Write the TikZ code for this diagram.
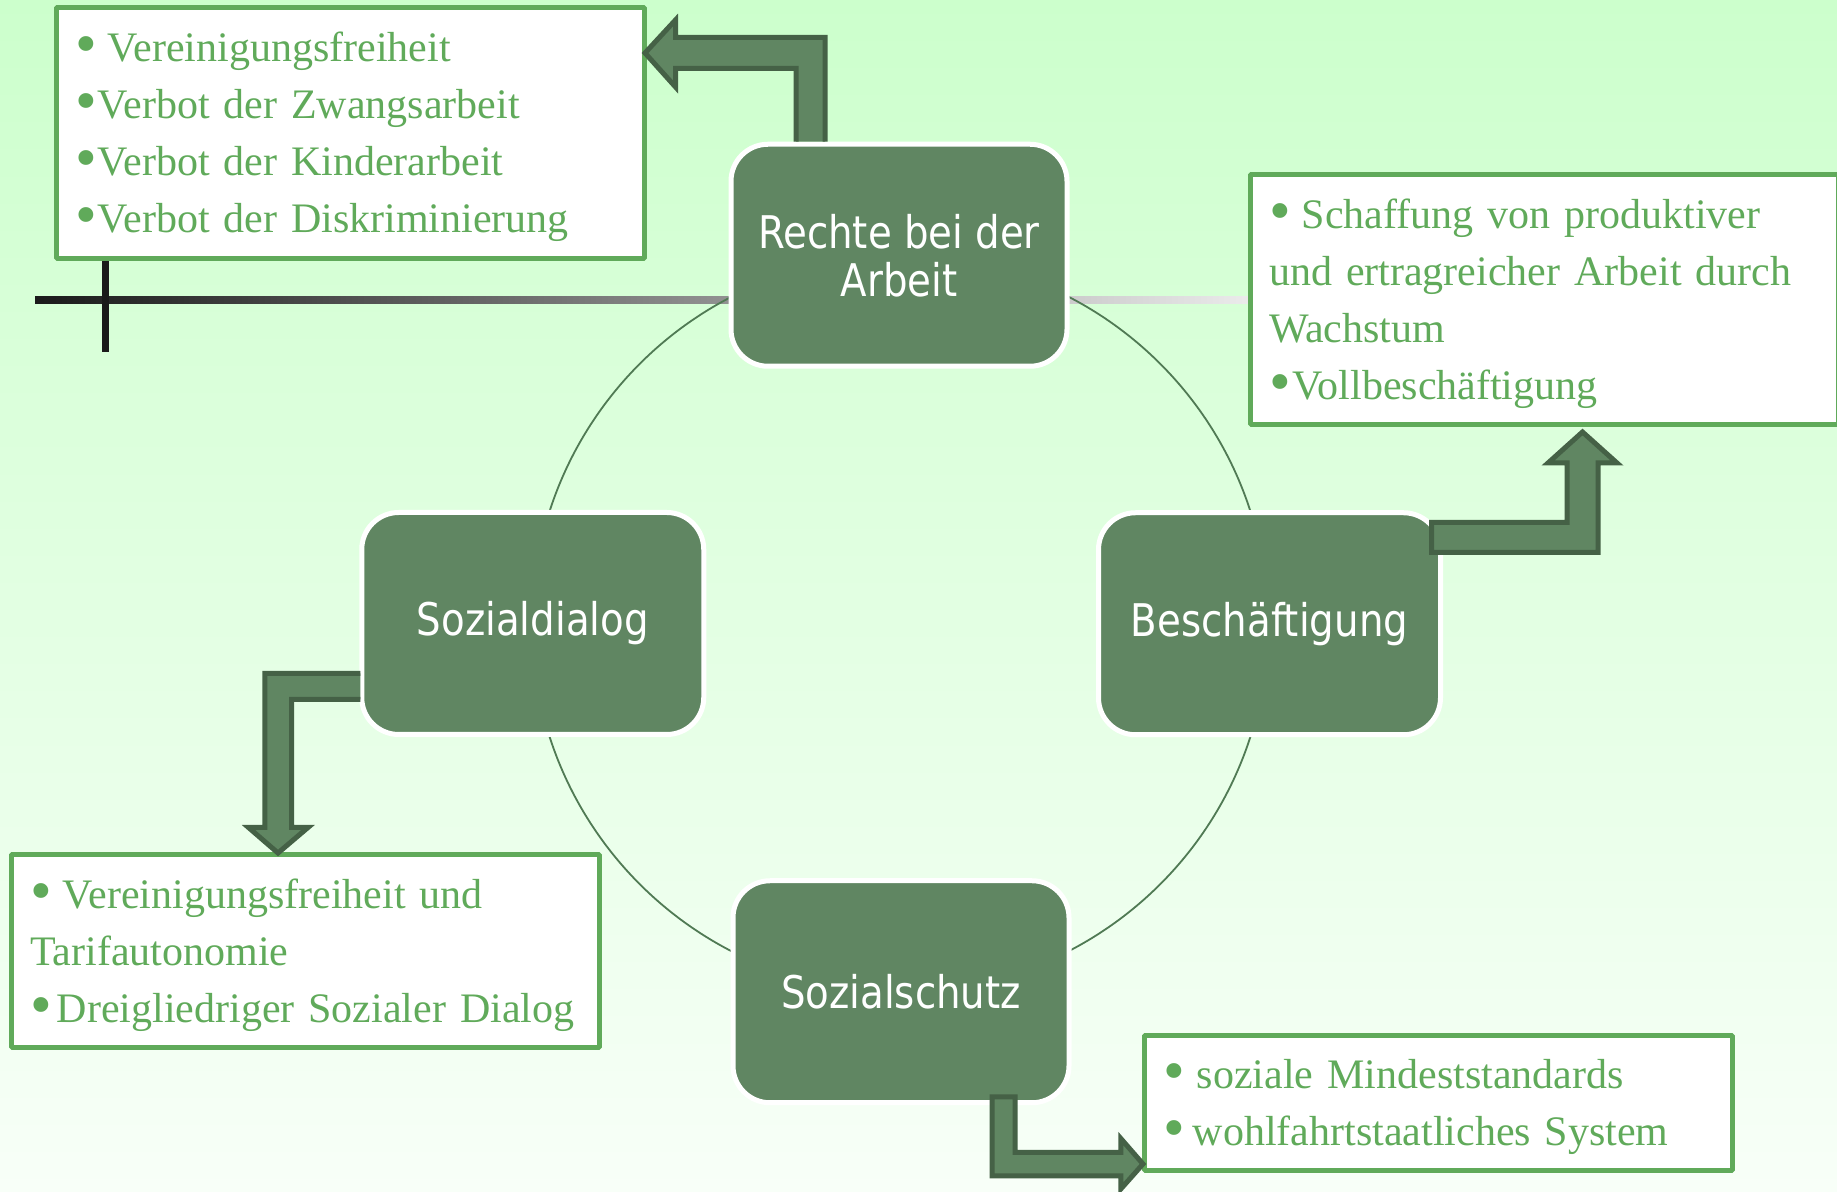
\documentclass[tikz,border=0pt]{standalone}
\usepackage{fontspec}
\setmainfont{Liberation Serif}
\newfontfamily\hubfont{DejaVu Sans}[FakeStretch=0.86]
\definecolor{bgtop}{RGB}{204,255,204}
\definecolor{bgbot}{RGB}{248,255,248}
\definecolor{hubfill}{RGB}{96,134,98}
\definecolor{arrowdark}{RGB}{69,97,70}
\definecolor{boxgreen}{RGB}{96,170,90}
\definecolor{ringgreen}{RGB}{80,122,84}
\definecolor{barleft}{RGB}{26,26,26}
\definecolor{barright}{RGB}{235,235,235}
\newcommand{\firstline}{\rule{0pt}{37bp}}
\newcommand{\bul}{\raisebox{-3bp}{\fontsize{62bp}{57bp}\selectfont•}}
\tikzset{
  hub/.style={draw=white,line width=5bp,fill=hubfill,rounded corners=37bp,
    minimum width=342bp,minimum height=222bp,inner sep=0pt,text=white,
    align=center,font=\hubfont\fontsize{45bp}{48bp}\selectfont},
  infobox/.style={draw=boxgreen,line width=5bp,fill=white,text=boxgreen,
    minimum width=588bp,text width=550bp,inner xsep=19bp,inner ysep=0pt,
    align=left,font=\fontsize{42bp}{57bp}\selectfont},
  blockarrow/.style={draw=arrowdark,fill=hubfill,line width=5bp,line join=miter},
}
\begin{document}
\begin{tikzpicture}[line join=bevel,]
%%
\useasboundingbox (0bp,0bp) rectangle (1837bp,1192bp);
\shade [top color=bgtop,bottom color=bgbot] (0bp,0bp) rectangle (1837bp,1192bp);
\shade [left color=barleft,right color=barright] (35bp,888.5bp) rectangle (1250bp,895.5bp);
\draw [ringgreen,line width=1.8bp] (900bp,568bp) circle (368bp);
%
\node (box_r) at (350bp,1058.5bp) [infobox,minimum height=251bp] {\firstline\bul\hspace{11bp}Vereinigungsfreiheit\\ \bul\hspace{1bp}Verbot der Zwangsarbeit\\ \bul\hspace{1bp}Verbot der Kinderarbeit\\ \bul\hspace{1bp}Verbot der Diskriminierung};
  \node (box_b) at (1544bp,892bp) [infobox,minimum height=250bp] {\firstline\bul\hspace{11bp}Schaffung von produktiver\\ und ertragreicher Arbeit durch\\ Wachstum\\ \bul\hspace{2bp}Vollbeschäftigung};
  \node (box_d) at (305bp,240.5bp) [infobox,minimum height=193bp] {\firstline\bul\hspace{11bp}Vereinigungsfreiheit und\\ Tarifautonomie\\ \bul\hspace{5bp}Dreigliedriger Sozialer Dialog};
  \node (box_s) at (1438bp,88.5bp) [infobox,minimum height=135bp] {\firstline\bul\hspace{12bp}soziale Mindeststandards\\ \bul\hspace{8bp}wohlfahrtstaatliches System};
%
\node (node_r) at (899bp,936.75bp) [hub,minimum width=336bp] {Rechte bei der\\Arbeit};
  \node (node_b) at (1269.5bp,568.25bp) [hub] {Beschäftigung};
  \node (node_d) at (532.75bp,568.5bp) [hub] {Sozialdialog};
  \node (node_s) at (901bp,200.25bp) [hub,minimum width=336bp] {Sozialschutz};
%
\draw [barleft,line width=7bp] ([xshift=-244.5bp]box_r.south) -- ([xshift=-244.5bp,yshift=-90.5bp]box_r.south);
%
\filldraw [blockarrow] ([xshift=-103bp]node_r.north) -- (796bp,1123.5bp) -- (675.5bp,1123.5bp) -- (675.5bp,1105bp) -- (645bp,1139bp) -- (675.5bp,1172bp) -- (675.5bp,1154.5bp) -- (825bp,1154.5bp) -- ([xshift=-74bp]node_r.north);
  \filldraw [blockarrow] ([xshift=-11.5bp,yshift=101.25bp]node_b.east) -- (1567bp,669.5bp) -- (1567bp,729bp) -- (1548bp,729bp) -- (1582.5bp,760bp) -- (1617bp,729bp) -- (1598bp,729bp) -- (1598bp,639.5bp) -- (1431.5bp,639.5bp) -- cycle;
  \filldraw [blockarrow] ([xshift=1bp,yshift=-49.8bp]node_d.west) -- (264.8bp,518.7bp) -- (264.8bp,364.5bp) -- (248.5bp,364.5bp) -- (278bp,339bp) -- (308bp,364.5bp) -- (291.5bp,364.5bp) -- (291.5bp,492.5bp) -- ([xshift=1bp,yshift=-76bp]node_d.west);
  \filldraw [blockarrow] ([xshift=91.2bp,yshift=8.25bp]node_s.south) -- (992.2bp,16.2bp) -- (1120.8bp,16.2bp) -- (1120.8bp,3bp) -- (1143bp,28bp) -- (1120.8bp,53.5bp) -- (1120.8bp,39.5bp) -- (1015bp,39.5bp) -- (1015bp,95bp) -- cycle;
%
\end{tikzpicture}
\end{document}
